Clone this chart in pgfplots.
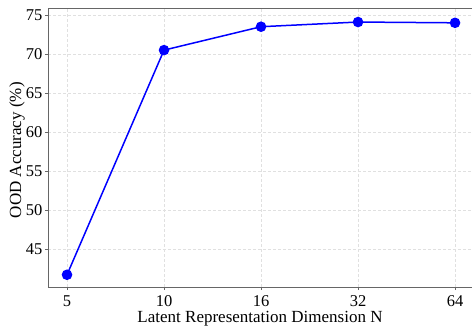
\documentclass[border=0pt]{standalone}
\usepackage{pgfplots}
\pgfplotsset{compat=1.18}
\usepackage{fontspec}
\setmainfont{Liberation Serif}
\begin{document}
\begin{tikzpicture}
\path[use as bounding box] (-48pt,-38pt) rectangle (425pt,287pt);
\begin{axis}[
  scale only axis,
  width=424pt, height=279pt,
  xmin=-0.196, xmax=4.175,
  ymin=40.13, ymax=75.9,
  axis x line*=box, axis y line*=left,
  axis line style={draw=black!60, line width=0.8pt},
  xtick={0,1,2,3,4},
  xticklabels={5,10,16,32,64},
  ytick={45,50,55,60,65,70,75},
  xtick pos=bottom, ytick pos=left,
  tick align=outside,
  major tick length=3pt,
  tick style={black!60, line width=0.6pt},
  grid=major,
  major grid style={densely dashed, draw=black!12, line width=0.4pt},
  /pgf/number format/assume math mode=true,
  tick label style={font=\fontsize{16.5}{19}\selectfont},
  label style={font=\fontsize{17}{20}\selectfont},
  xlabel={Latent Representation Dimension N},
  ylabel={OOD Accuracy (\%)},
  xlabel style={at={(axis description cs:0.5,0)}, anchor=base, inner sep=0pt, yshift=-35.5pt},
  ylabel style={at={(axis description cs:-0.073,0.49)}, anchor=center},
  xticklabel style={anchor=base, inner sep=0pt, yshift=-16.3pt},
  yticklabel style={xshift=1pt},
]
\addplot[blue, line width=1.5pt, mark=*, mark size=4.5pt, mark options={fill=blue, draw=blue}]
  coordinates {(0,41.7) (1,70.5) (2,73.5) (3,74.1) (4,74.0)};
\end{axis}
\end{tikzpicture}
\end{document}
